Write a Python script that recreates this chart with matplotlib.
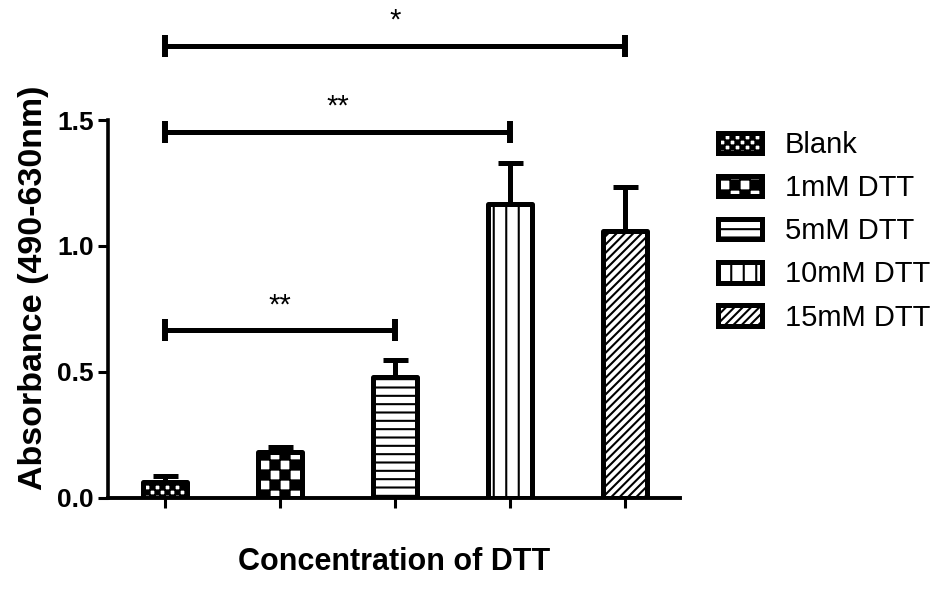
import numpy as np
import matplotlib
matplotlib.use('Agg')
import matplotlib.pyplot as plt
from matplotlib import hatch as mhatch
from matplotlib.path import Path

# ---------------- data ----------------
categories = ['Blank', '1mM DTT', '5mM DTT', '10mM DTT', '15mM DTT']
means = [0.063, 0.181, 0.479, 1.168, 1.059]
errors = [0.022, 0.021, 0.067, 0.162, 0.176]
patterns = ['.', '*', '--', '|', '////']
brackets = [(0, 2, 0.665, '**'), (0, 3, 1.453, '**'), (0, 4, 1.794, '*')]
yticks = [0.0, 0.5, 1.0, 1.5]
ytick_labels = ['0.0', '0.5', '1.0', '1.5']
xlabel = 'Concentration of DTT'
ylabel = 'Absorbance (490-630nm)'


# ---------------- custom hatch patterns (checkerboards, vertical lines) -----
class CheckerHatch(mhatch.HatchPatternBase):
    """'.' -> fine checkerboard, '*' -> coarse checkerboard."""
    def __init__(self, hatch, density):
        if hatch.count('.'):
            self.n = 20
        elif hatch.count('*'):
            self.n = 10
        else:
            self.n = 0
        self.cells = [(i, j) for i in range(self.n) for j in range(self.n)
                      if (i + j) % 2 == 0]
        self.num_vertices = len(self.cells) * 5

    def set_vertices_and_codes(self, vertices, codes):
        s = 1.0 / self.n
        d = 0.004
        k = 0
        for i, j in self.cells:
            x0, y0 = i * s + d, j * s + d
            x1, y1 = (i + 1) * s - d, (j + 1) * s - d
            vertices[k:k + 5] = [(x0, y0), (x1, y0), (x1, y1), (x0, y1), (x0, y0)]
            codes[k:k + 5] = [Path.MOVETO, Path.LINETO, Path.LINETO,
                              Path.LINETO, Path.CLOSEPOLY]
            k += 5


class SparseVertical(mhatch.VerticalHatch):
    def __init__(self, hatch, density):
        self.num_lines = int(hatch.count('|') * 8)
        self.num_vertices = self.num_lines * 2 if self.num_lines else 0


mhatch._hatch_types = [mhatch.HorizontalHatch, SparseVertical,
                       mhatch.NorthEastHatch, mhatch.SouthEastHatch,
                       CheckerHatch]

plt.rcParams['font.family'] = ['Liberation Sans', 'DejaVu Sans']
plt.rcParams['hatch.linewidth'] = 1.5
plt.rcParams['hatch.color'] = 'black'

fig = plt.figure(figsize=(9.41, 5.92), dpi=100)
ax = fig.add_axes([108 / 941, 1 - 497.5 / 592, (680 - 108) / 941, (497.5 - 120) / 592])

x = np.arange(len(categories))
for xi, m, cat, pat in zip(x, means, categories, patterns):
    ax.bar(xi, m, width=0.39, color='white', edgecolor='black', linewidth=3.6,
           hatch=pat, label=cat, joinstyle='round', zorder=2)

ax.errorbar(x, means, yerr=[np.zeros(len(means)), errors], fmt='none',
            ecolor='black', elinewidth=3.6, capsize=9, capthick=3.6, zorder=1)

ax.set_xlim(-0.496, 4.478)
ax.set_ylim(0, 1.5)
ax.set_xticks(x)
ax.set_xticklabels([])
ax.set_yticks(yticks)
ax.set_yticklabels(ytick_labels, fontsize=19, fontweight='bold')
ax.tick_params(axis='both', length=7, width=2.2, direction='out', pad=3)

for side in ['top', 'right']:
    ax.spines[side].set_visible(False)
ax.spines['left'].set_linewidth(2.6)
ax.spines['bottom'].set_linewidth(2.8)

ax.set_xlabel(xlabel, fontsize=22, fontweight='bold', labelpad=26)
ax.set_ylabel(ylabel, fontsize=24.5, fontweight='bold', labelpad=6)
ax.yaxis.label.set_y(0.555)

# significance brackets
for i0, i1, y, txt in brackets:
    ax.plot([x[i0], x[i1]], [y, y], color='black', lw=3.6, marker='|',
            ms=16, mew=4.3, clip_on=False, solid_capstyle='butt')
    ax.annotate(txt, xy=((x[i0] + x[i1]) / 2, y), xytext=(0, 18),
                textcoords='offset points', ha='center', va='center',
                fontsize=21, annotation_clip=False)

ax.legend(loc='upper left', bbox_to_anchor=(718 / 941, 1 - 131 / 592),
          bbox_transform=fig.transFigure, frameon=False, fontsize=21,
          handlelength=1.5, handleheight=0.7, handletextpad=0.8,
          labelspacing=0.52, borderpad=0, borderaxespad=0)

fig.savefig('out.png', dpi=100)
